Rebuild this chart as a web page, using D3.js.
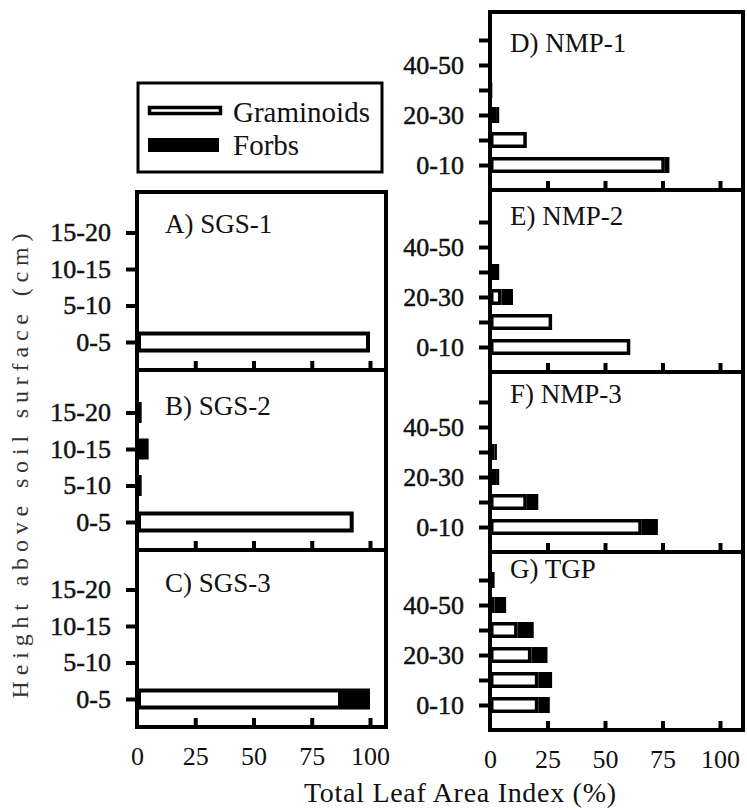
<!DOCTYPE html>
<html>
<head>
<meta charset="utf-8">
<script src="https://cdn.jsdelivr.net/npm/d3@7"></script>
<style>
body { margin: 0; background: #fff; }
svg text { font-family: "Liberation Serif", "DejaVu Serif", serif !important; fill: #111; }
</style>
</head>
<body>
<div id="chart"></div>
<script>
/* height classes (bottom class first) */
var shortClasses = ["0-5", "5-10", "10-15", "15-20"],
    tallClasses = ["0-10", "10-20", "20-30", "30-40", "40-50", "50-60"],
    tallLabels = ["0-10", "20-30", "40-50"],
    xTicks = [0, 25, 50, 75, 100];

/* % of total leaf area index in each class */
var sgs1Gram = [100, 0, 0, 0],      sgs1Forb = [0, 0, 0, 0],
    sgs2Gram = [93, 0, 0, 0],       sgs2Forb = [0, 2, 5, 2],
    sgs3Gram = [88, 0, 0, 0],       sgs3Forb = [12, 0, 0, 0],
    nmp1Gram = [76, 16, 3, 0, 0, 0],   nmp1Forb = [2, 0, 1, 1, 0, 0],
    nmp2Gram = [61, 27, 5, 0, 0, 0],   nmp2Forb = [0, 0, 5, 4, 0, 0],
    nmp3Gram = [66, 16, 3, 2, 0, 0],   nmp3Forb = [7, 5, 1, 1, 0, 0],
    tgpGram = [21, 21, 18, 12, 2, 0],  tgpForb = [5, 6, 7, 7, 5, 2];

var width = 747,
    height = 810;

/* the two columns of panels */
var cols = [
    { left: 137, x100: 370, right: 386, first: 28, step: 36.5, barH: 21, sw: 4, titleX: 28, labels: null },
    { left: 490, x100: 720, right: 743, first: 25, step: 25, barH: 16, sw: 3.5, titleX: 20, labels: tallLabels }
];

var panels = [
    { title: "A) SGS-1", cats: shortClasses, gram: sgs1Gram, forb: sgs1Forb, col: 0, top: 192, bottom: 370, titleY: 41 },
    { title: "B) SGS-2", cats: shortClasses, gram: sgs2Gram, forb: sgs2Forb, col: 0, top: 370, bottom: 550, titleY: 45 },
    { title: "C) SGS-3", cats: shortClasses, gram: sgs3Gram, forb: sgs3Forb, col: 0, top: 550, bottom: 727, titleY: 42, xLabels: true },
    { title: "D) NMP-1", cats: tallClasses, gram: nmp1Gram, forb: nmp1Forb, col: 1, top: 12, bottom: 190, titleY: 40 },
    { title: "E) NMP-2", cats: tallClasses, gram: nmp2Gram, forb: nmp2Forb, col: 1, top: 190, bottom: 372, titleY: 35 },
    { title: "F) NMP-3", cats: tallClasses, gram: nmp3Gram, forb: nmp3Forb, col: 1, top: 372, bottom: 552, titleY: 31 },
    { title: "G) TGP", cats: tallClasses, gram: tgpGram, forb: tgpForb, col: 1, top: 552, bottom: 730, titleY: 26, xLabels: true }
];

var svg = d3.select("#chart")
            .append("svg")
            .attr("width", width)
            .attr("height", height)
            .attr("font-family", "Liberation Serif, DejaVu Serif, serif");

svg.append("rect")
    .attr("width", width)
    .attr("height", height)
    .attr("fill", "#fff");

/* one panel per site */
panels.forEach(function(p) {
    var c = cols[p.col];

    var x = d3.scaleLinear()
                .domain([0, 100])
                .range([c.left, c.x100]);

    var y = d3.scalePoint()
                .domain(p.cats)
                .range([p.bottom - c.first, p.bottom - c.first - (p.cats.length - 1) * c.step]);

    var rows = p.cats.map(function(k, i) {
        return { cat: k, gram: p.gram[i], forb: p.forb[i] };
    });

    var g = svg.append("g");

    /* forbs stacked after graminoids */
    g.selectAll(".forb")
        .data(rows.filter(function(d) { return d.forb > 0; }))
        .enter().append("rect")
            .attr("class", "forb")
            .attr("x", function(d) { return x(d.gram); })
            .attr("y", function(d) { return y(d.cat) - c.barH / 2; })
            .attr("width", function(d) { return x(d.gram + d.forb) - x(d.gram); })
            .attr("height", c.barH)
            .attr("fill", "#000");

    /* graminoids: open bars */
    g.selectAll(".gram")
        .data(rows.filter(function(d) { return d.gram > 0; }))
        .enter().append("rect")
            .attr("class", "gram")
            .attr("x", x(0) + c.sw / 2)
            .attr("y", function(d) { return y(d.cat) - c.barH / 2 + c.sw / 2; })
            .attr("width", function(d) { return Math.max(0.5, x(d.gram) - x(0) - c.sw); })
            .attr("height", c.barH - c.sw)
            .attr("fill", "#fff")
            .attr("stroke", "#000")
            .attr("stroke-width", c.sw);

    /* y axis */
    var yAxis = d3.axisLeft(y)
                    .tickSize(11)
                    .tickPadding(15)
                    .tickFormat(function(d) { return c.labels == null || c.labels.indexOf(d) >= 0 ? d : ""; });

    g.append("g")
        .attr("transform", "translate(" + c.left + ",0)")
        .call(yAxis)
        .attr("font-size", 26)
        .attr("font-family", null)
        .call(function(s) { s.select(".domain").remove(); })
        .call(function(s) { s.selectAll(".tick line").attr("stroke", "#000").attr("stroke-width", 4); })
        .call(function(s) { s.selectAll(".tick text").attr("stroke", "#111").attr("stroke-width", 0.5); });

    /* inward ticks on the bottom edge */
    g.append("g")
        .attr("transform", "translate(0," + p.bottom + ")")
        .call(d3.axisTop(x).tickValues(xTicks.slice(1)).tickSize(9).tickFormat(""))
        .call(function(s) { s.select(".domain").remove(); })
        .call(function(s) { s.selectAll(".tick line").attr("stroke", "#000").attr("stroke-width", 4); });

    /* tick labels below the bottom panels */
    if (p.xLabels) {
        g.append("g")
            .attr("transform", "translate(0," + p.bottom + ")")
            .call(d3.axisBottom(x).tickValues(xTicks).tickSize(0).tickPadding(20))
            .attr("font-size", 26)
            .attr("font-family", null)
            .call(function(s) { s.select(".domain").remove(); });
    }

    /* frame */
    g.append("rect")
        .attr("x", c.left)
        .attr("y", p.top)
        .attr("width", c.right - c.left)
        .attr("height", p.bottom - p.top)
        .attr("fill", "none")
        .attr("stroke", "#000")
        .attr("stroke-width", 4);

    /* site name */
    g.append("text")
        .attr("x", c.left + c.titleX)
        .attr("y", p.top + p.titleY)
        .attr("font-size", 27)
        .text(p.title);
});

/* legend */
var legend = svg.append("g");

legend.append("rect")
    .attr("x", 138)
    .attr("y", 83)
    .attr("width", 244)
    .attr("height", 89)
    .attr("fill", "#fff")
    .attr("stroke", "#000")
    .attr("stroke-width", 3);

legend.append("rect")
    .attr("x", 149.5)
    .attr("y", 107.5)
    .attr("width", 71)
    .attr("height", 6)
    .attr("fill", "#fff")
    .attr("stroke", "#000")
    .attr("stroke-width", 3.5);

legend.append("rect")
    .attr("x", 148)
    .attr("y", 138)
    .attr("width", 71)
    .attr("height", 14)
    .attr("fill", "#000");

legend.append("text")
    .attr("x", 233)
    .attr("y", 122)
    .attr("font-size", 29)
    .text("Graminoids");

legend.append("text")
    .attr("x", 233)
    .attr("y", 155)
    .attr("font-size", 29)
    .text("Forbs");

/* axis labels */
svg.append("text")
    .attr("x", 460)
    .attr("y", 802)
    .attr("text-anchor", "middle")
    .attr("font-size", 28)
    .attr("textLength", 312)
    .text("Total Leaf Area Index (%)");

svg.append("text")
    .attr("transform", "translate(28,466)rotate(-90)")
    .attr("text-anchor", "middle")
    .attr("font-size", 24)
    .attr("textLength", 465)
    .style("fill", "#333")
    .text("Height above soil surface (cm)");
</script>
</body>
</html>
